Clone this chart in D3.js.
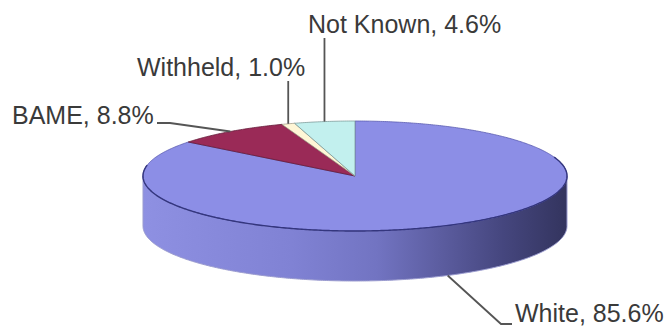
<!DOCTYPE html>
<html><head><meta charset="utf-8">
<script src="https://cdn.jsdelivr.net/npm/d3@7"></script>
<style>html,body{margin:0;padding:0;background:#fff}svg{display:block}</style>
</head><body>
<svg id="chart" width="666" height="329"></svg>
<script>
// Staff ethnicity breakdown, percent of total
const categories = ["White", "BAME", "Withheld", "Not Known"];
const shares = [85.6, 8.8, 1.0, 4.6];
const sliceColors = ["#8c8ee6", "#9a2a57", "#fff6d6", "#c2f0ee"];

const W = 666, H = 329;
const cx = 355, cy = 176, rx = 212, ry = 55, depth = 50;

const svg = d3.select("#chart");
const defs = svg.append("defs");

// pie layout: clockwise from 12 o'clock, in data order
const arcs = d3.pie().sort(null).value(d => d)(shares);

// projected ellipse point for an angle measured clockwise from the top
const pt = (a, dy = 0) => [cx + rx * Math.sin(a), cy - ry * Math.cos(a) + dy];
function ellipsePts(a0, a1, dy = 0) {
  const n = Math.max(2, Math.ceil(Math.abs(a1 - a0) / 0.01));
  return d3.range(n + 1).map(i => pt(a0 + (a1 - a0) * i / n, dy));
}
const line = d3.line();

// shading of the outer wall, light on the left, dark on the right
const grad = defs.append("linearGradient")
  .attr("id", "wall").attr("gradientUnits", "userSpaceOnUse")
  .attr("x1", cx - rx).attr("x2", cx + rx).attr("y1", 0).attr("y2", 0);
[["0%", "#8e90e2"], ["35%", "#8082d4"], ["55%", "#7274c2"], ["70%", "#5c5da0"],
 ["85%", "#45467e"], ["100%", "#33345e"]]
  .forEach(([o, c]) => grad.append("stop").attr("offset", o).attr("stop-color", c));

// outer walls: only the front half of the disc is visible
const front0 = Math.PI / 2, front1 = 3 * Math.PI / 2;
arcs.forEach((d, i) => {
  const a0 = Math.max(d.startAngle, front0), a1 = Math.min(d.endAngle, front1);
  if (a1 <= a0) return;
  const pts = ellipsePts(a0, a1).concat(ellipsePts(a1, a0, depth));
  svg.append("path")
    .attr("d", line(pts) + "Z")
    .attr("fill", i === 0 ? "url(#wall)" : d3.color(sliceColors[i]).darker(0.8))
    .attr("stroke", "#9a9bcf").attr("stroke-width", 1);
});

// top faces
arcs.forEach((d, i) => {
  const pts = [[cx, cy]].concat(ellipsePts(d.startAngle, d.endAngle));
  svg.append("path")
    .attr("d", line(pts) + "Z")
    .attr("fill", sliceColors[i])
    .attr("stroke", i === 0 ? "#5a5cb0" : d3.color(sliceColors[i]).darker(1.2))
    .attr("stroke-width", 0.8)
    .attr("stroke-linejoin", "round");
});

// darker rim along the front edge of the top face
svg.append("path")
  .attr("d", line(ellipsePts(front0 - 0.35, front1 + 0.2)))
  .attr("fill", "none").attr("stroke", "#34367e").attr("stroke-width", 1.4);

// labels with leader lines
const fmt = (c, v) => `${c}, ${v.toFixed(1)}%`;
const labelLayout = [
  { x: 515, y: 322, anchor: "start" },   // White
  { x: 12,  y: 124, anchor: "start" },   // BAME
  { x: 137, y: 76,  anchor: "start" },   // Withheld
  { x: 308, y: 33,  anchor: "start" }    // Not Known
];

arcs.forEach((d, i) => {
  const mid = (d.startAngle + d.endAngle) / 2;
  const L = labelLayout[i];
  let pts;
  if (i === 0) {
    const p = pt(mid, depth);
    pts = [p, [L.x - 14, L.y + 2], [L.x - 3, L.y + 2]];
  } else if (i === 1) {
    const p = pt(mid);
    pts = [[L.x + 145, L.y - 1], [L.x + 158, L.y - 1], p];
  } else {
    const p = pt(mid);
    pts = [[p[0], L.y + 5], p];
  }
  svg.append("path")
    .attr("d", line(pts))
    .attr("fill", "none").attr("stroke", "#555").attr("stroke-width", 1.8);
  svg.append("text")
    .attr("x", L.x).attr("y", L.y)
    .attr("text-anchor", L.anchor)
    .attr("font-family", "'Liberation Sans', Arial, sans-serif")
    .attr("font-size", 25)
    .attr("fill", "#3a3a3a")
    .text(fmt(categories[i], shares[i]));
});
</script>
</body></html>
